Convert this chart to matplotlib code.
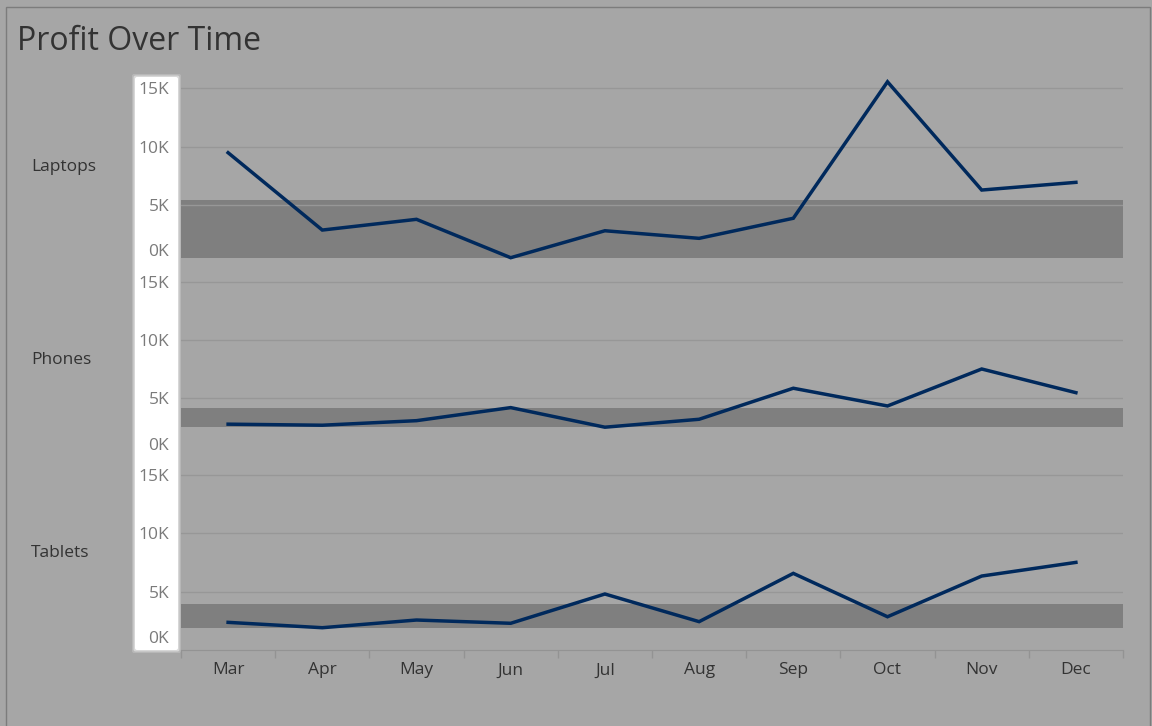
import matplotlib
matplotlib.use("Agg")
import matplotlib.pyplot as plt
from matplotlib.patches import Rectangle, FancyBboxPatch
from matplotlib.transforms import ScaledTranslation
import numpy as np

# data (profit in dollars)
months = ["Mar", "Apr", "May", "Jun", "Jul", "Aug", "Sep", "Oct", "Nov", "Dec"]
categories = ["Laptops", "Phones", "Tablets"]
laptops = [9480, 2850, 3770, 480, 2790, 2140, 3860, 15560, 6280, 6940]
phones = [2780, 2690, 3080, 4200, 2520, 3200, 5860, 4340, 7510, 5480]
tablets = [2370, 1910, 2570, 2290, 4800, 2430, 6570, 2850, 6340, 7510]
yticks = [0, 5000, 10000, 15000]
yticklabels = ["0K", "5K", "10K", "15K"]

series = [laptops, phones, tablets]

W, H = 1152, 726
BG = "#a6a6a6"
BAND = "#7f7f7f"
GRID = "#979797"
LINE = "#00295c"
TXT = "#333333"

plt.rcParams["font.family"] = ["Open Sans", "DejaVu Sans"]

fig = plt.figure(figsize=(W / 100, H / 100), dpi=100, facecolor=BG)


def box(x0, y0, x1, y1):
    # pixel box (top-left origin) -> figure fraction rect
    return [x0 / W, 1 - y1 / H, (x1 - x0) / W, (y1 - y0) / H]


# white highlighted axis strip with a soft edge
for grow, alpha in [(3, 0.2), (1.5, 0.45), (0, 1.0)]:
    fig.patches.append(FancyBboxPatch((135 - grow, H - 650 - grow), 43 + 2 * grow, 573 + 2 * grow,
                                      boxstyle="round,pad=0,rounding_size=2",
                                      transform=None, facecolor="white", edgecolor="none",
                                      alpha=alpha, zorder=0))

# outer border
fig.patches.append(Rectangle((5.5, -10), 1144, H - 6.5 + 10, transform=None,
                             facecolor="none", edgecolor="#7c7c7c", linewidth=1, zorder=0))

tops = [70, 263.3, 456.7]
pane_h = 193.3
ymax = 16570
x = np.arange(len(months))

for i, (name, vals) in enumerate(zip(categories, series)):
    ax = fig.add_axes(box(181, tops[i], 1123, tops[i] + pane_h))
    ax.set_zorder(2)
    ax.set_facecolor("none")
    ax.set_xlim(-0.5, len(months) - 0.5)
    ax.set_ylim(0, ymax)

    # reference band: min to average
    ax.axhspan(min(vals), np.mean(vals), color=BAND, linewidth=0, zorder=1)
    for t in yticks[1:]:
        ax.axhline(t, color=GRID, linewidth=1, zorder=2)
    ax.plot(x, vals, color=LINE, linewidth=2.5, solid_joinstyle="miter", zorder=3)

    for s in ax.spines.values():
        s.set_visible(False)
    ax.set_yticks(yticks)
    ax.set_yticklabels(yticklabels)
    ax.tick_params(axis="y", length=0, pad=8.5, labelsize=12.5, labelcolor="#7a7a7a")
    # zero label sits inside the pane like tableau does
    lab0 = ax.get_yticklabels()[0]
    lab0.set_transform(lab0.get_transform() + ScaledTranslation(0, 0.13, fig.dpi_scale_trans))

    fig.text(31 / W, 1 - (tops[i] + pane_h / 2) / H, name, ha="left", va="center",
             fontsize=12.5, color=TXT)

    if i < 2:
        ax.set_xticks([])
    else:
        ax.spines["bottom"].set_visible(True)
        ax.spines["bottom"].set_color("#939393")
        ax.set_xticks(x)
        ax.set_xticklabels(months)
        ax.set_xticks(np.arange(-0.5, len(months)), minor=True)
        ax.tick_params(axis="x", which="major", length=0, pad=9, labelsize=12.5, labelcolor=TXT)
        ax.tick_params(axis="x", which="minor", length=6, color="#939393", width=1)

fig.text(17 / W, 1 - 50 / H, "Profit Over Time", ha="left", va="baseline",
         fontsize=23, color=TXT)

fig.savefig("out.png", dpi=100, facecolor=BG)
